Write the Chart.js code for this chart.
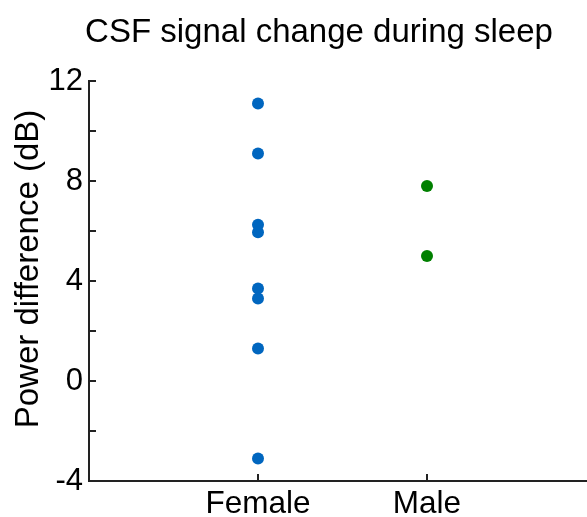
<!DOCTYPE html>
<html>
<head>
<meta charset="utf-8">
<script src="https://cdn.jsdelivr.net/npm/chart.js@4.4.1/dist/chart.umd.min.js"></script>
<style>
  html, body { margin: 0; padding: 0; background: #fff; }
  #wrap { width: 587px; height: 517px; }
</style>
</head>
<body>
<div id="wrap"><canvas id="c" width="587" height="517"></canvas></div>
<script>
const categories = ['Female', 'Male'];
const femaleValues = [11.1, 9.1, 6.25, 5.95, 3.7, 3.3, 1.3, -3.1];
const maleValues = [7.8, 5.0];
const yTickValues = [-4, 0, 4, 8, 12];
const yMinorTicks = [-4, -2, 0, 2, 4, 6, 8, 10, 12];
const titleText = 'CSF signal change during sleep';
const yLabelText = 'Power difference (dB)';

const FONT = "'Liberation Sans', Arial, Helvetica, sans-serif";
const AXIS_COLOR = '#222222';

const femaleData = femaleValues.map(v => ({ x: 1, y: v }));
const maleData = maleValues.map(v => ({ x: 2, y: v }));

const extras = {
  id: 'extras',
  afterDraw(chart) {
    const ctx = chart.ctx;
    const xs = chart.scales.x, ys = chart.scales.y;
    const area = chart.chartArea;
    ctx.save();
    ctx.strokeStyle = AXIS_COLOR;
    ctx.lineWidth = 2;
    ctx.beginPath();
    yMinorTicks.forEach(v => {
      const y = Math.round(ys.getPixelForValue(v));
      ctx.moveTo(area.left, y);
      ctx.lineTo(area.left + 7, y);
    });
    categories.forEach((c, i) => {
      const x = Math.round(xs.getPixelForValue(i + 1));
      ctx.moveTo(x, area.bottom);
      ctx.lineTo(x, area.bottom - 7);
    });
    ctx.stroke();
    ctx.fillStyle = '#000';
    // title, centred over the axes box
    ctx.font = "33px " + FONT;
    ctx.textAlign = 'center';
    ctx.textBaseline = 'alphabetic';
    ctx.fillText(titleText, 319, 42);
    // y-axis label
    ctx.textBaseline = 'middle';
    ctx.translate(29, 269);
    ctx.rotate(-Math.PI / 2);
    ctx.fillText(yLabelText, 0, 0);
    ctx.restore();
  }
};

new Chart(document.getElementById('c'), {
  type: 'scatter',
  data: {
    datasets: [
      { data: femaleData, backgroundColor: '#0066BF', borderColor: '#0066BF', pointRadius: 6, pointHoverRadius: 6, borderWidth: 0 },
      { data: maleData, backgroundColor: '#008000', borderColor: '#008000', pointRadius: 6, pointHoverRadius: 6, borderWidth: 0 }
    ]
  },
  options: {
    responsive: false,
    animation: false,
    events: [],
    layout: { autoPadding: false, padding: { left: 0, right: 0, top: 81, bottom: 0 } },
    plugins: {
      legend: { display: false },
      tooltip: { enabled: false },
      title: { display: false }
    },
    scales: {
      x: {
        type: 'linear',
        min: 0,
        max: (587 - 89) / 169,
        grid: { display: false, drawTicks: false },
        border: { display: true, color: AXIS_COLOR, width: 2 },
        afterBuildTicks: s => { s.ticks = categories.map((c, i) => ({ value: i + 1 })); },
        afterFit: s => { s.height = 36; },
        ticks: {
          autoSkip: false,
          maxRotation: 0,
          padding: 4,
          color: '#000',
          font: { family: FONT, size: 31.5 },
          callback: v => categories[v - 1] || ''
        }
      },
      y: {
        type: 'linear',
        min: -4,
        max: 12,
        grid: { display: false, drawTicks: false },
        border: { display: true, color: AXIS_COLOR, width: 2 },
        afterBuildTicks: s => { s.ticks = yTickValues.map(v => ({ value: v })); },
        afterFit: s => { s.width = 89; },
        ticks: {
          padding: 6,
          color: '#000',
          font: { family: FONT, size: 31 },
          callback: v => String(v)
        }
      }
    }
  },
  plugins: [extras]
});
</script>
</body>
</html>
